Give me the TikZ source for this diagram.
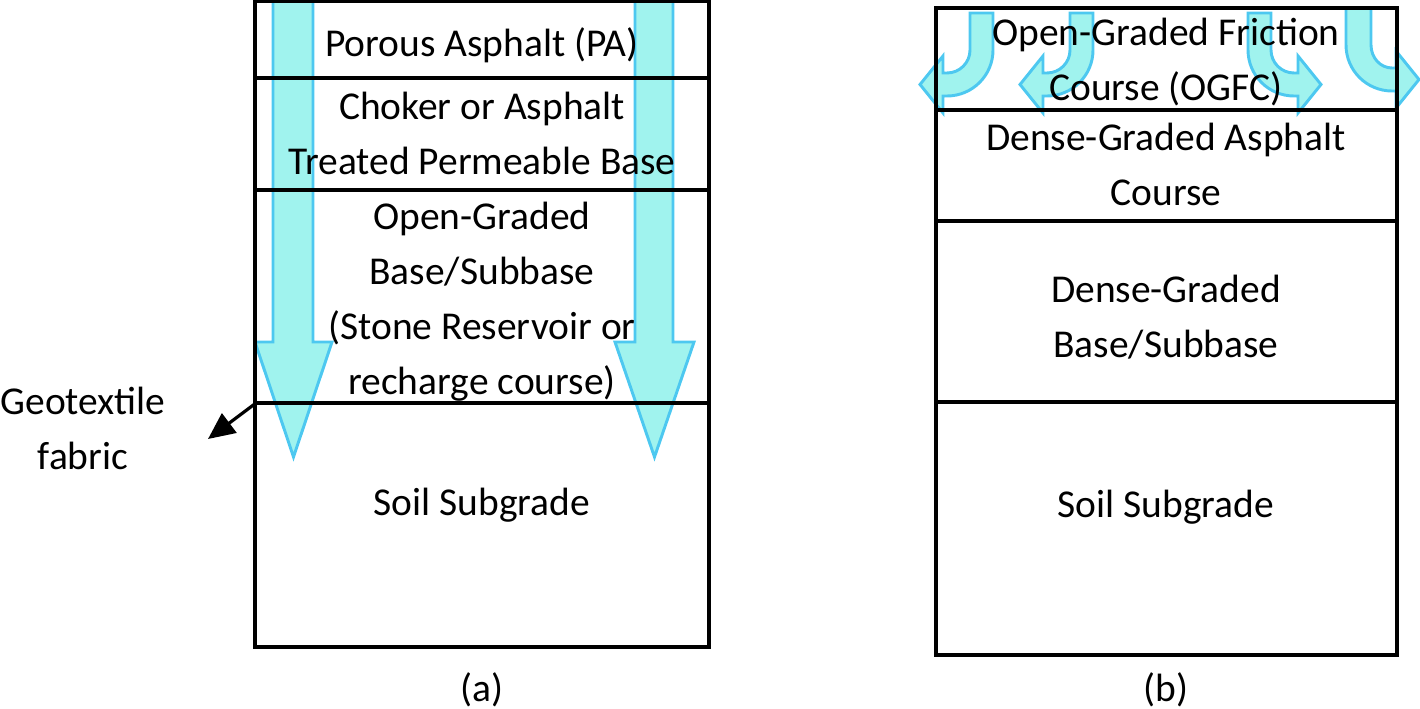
\documentclass[tikz,border=0pt]{standalone}
\usepackage{fontspec}
\setmainfont{Carlito}
\usetikzlibrary{arrows.meta}
\definecolor{flowfill}{RGB}{160,243,238}
\definecolor{flowline}{RGB}{77,200,240}

\begin{document}
\begin{tikzpicture}[
  x=0.75pt, y=0.75pt,
  layer/.style = {
    draw,
    line width = 2.3pt,
  },
  label/.style = {
    align = center,
    inner sep = 0pt,
    font = \fontsize{29.6}{41.25}\selectfont,
  },
  flow/.style = {
    draw = flowline,
    fill = flowfill,
    line width = 2.2pt,
    line join = miter,
  },
  >={Triangle[length=20pt,width=18pt]},
]

  \useasboundingbox (0,0) rectangle (1420,-709);

  % (a) straight arrows
  \path[flow] (273,-1) -- (273,-342) -- (255,-342) -- (293.5,-457) -- (332,-342)
    -- (313,-342) -- (313,-1) -- cycle;
  \path[flow] (635,-1) -- (635,-342) -- (615,-342) -- (654.5,-457) -- (694,-342)
    -- (673,-342) -- (673,-1) -- cycle;

  % (a) layers
  \draw[layer] (255,-1) rectangle (709,-647);
  \draw[layer] (255,-78) -- (709,-78);
  \draw[layer] (255,-190) -- (709,-190);
  \draw[layer] (255,-403) -- (709,-403);

  \node[label] (pa) at (482,-45) {Porous Asphalt (PA)};
  \node[label] (choker) at (482,-133) {Choker or Asphalt\\Treated Permeable Base};
  \node[label] (reservoir) at (482,-302) {Open-Graded\\Base/Subbase\\(Stone Reservoir or\\recharge course)};
  \node[label] (soila) at (482,-505) {Soil Subgrade};
  \node[label] (capa) at (482,-690) {(a)};

  \node[label] (geotex) at (83,-428) {Geotextile\\fabric};
  \coordinate (geo) at (256,-403);
  \coordinate (geoend) at (208,-439);
  \draw[->,line width=2.4pt] (geo) -- (geoend);

  % (b) bent arrows
  \begin{scope}[shift={(993,0)}]
    \path[flow] (-23,-13) -- (-23,-50) .. controls (-23,-62.7) and (-33.3,-73) .. (-46,-73)
      -- (-50,-73) -- (-50,-56) -- (-73,-84.5) -- (-50,-113) -- (-50,-96) -- (-46,-96)
      .. controls (-20.6,-96) and (0,-75.4) .. (0,-50) -- (0,-13) -- cycle;
  \end{scope}
  \begin{scope}[shift={(1093,0)}]
    \path[flow] (-23,-13) -- (-23,-50) .. controls (-23,-62.7) and (-33.3,-73) .. (-46,-73)
      -- (-50,-73) -- (-50,-56) -- (-73,-84.5) -- (-50,-113) -- (-50,-96) -- (-46,-96)
      .. controls (-20.6,-96) and (0,-75.4) .. (0,-50) -- (0,-13) -- cycle;
  \end{scope}
  \begin{scope}[shift={(1248,0)},xscale=-1]
    \path[flow] (-23,-13) -- (-23,-50) .. controls (-23,-62.7) and (-33.3,-73) .. (-46,-73)
      -- (-50,-73) -- (-50,-56) -- (-73,-84.5) -- (-50,-113) -- (-50,-96) -- (-46,-96)
      .. controls (-20.6,-96) and (0,-75.4) .. (0,-50) -- (0,-13) -- cycle;
  \end{scope}
  \begin{scope}[shift={(1346,5)},xscale=-1]
    \path[flow] (-25,-13) -- (-25,-50) .. controls (-25,-62.7) and (-34.3,-73) .. (-46,-73)
      -- (-50,-73) -- (-50,-56) -- (-73,-84.5) -- (-50,-113) -- (-50,-96) -- (-46,-96)
      .. controls (-20.6,-96) and (0,-75.4) .. (0,-50) -- (0,-13) -- cycle;
  \end{scope}

  % (b) layers
  \draw[layer] (936,-8) rectangle (1397,-655);
  \draw[layer] (936,-110) -- (1397,-110);
  \draw[layer] (936,-221) -- (1397,-221);
  \draw[layer] (936,-402) -- (1397,-402);

  \node[label] (ogfc) at (1166,-62) {Open-Graded Friction\\Course (OGFC)};
  \node[label] (dgac) at (1166,-164) {Dense-Graded Asphalt\\Course};
  \node[label] (dgbase) at (1166,-317) {Dense-Graded\\Base/Subbase};
  \node[label] (soilb) at (1166,-507) {Soil Subgrade};
  \node[label] (capb) at (1166,-690) {(b)};

\end{tikzpicture}
\end{document}
